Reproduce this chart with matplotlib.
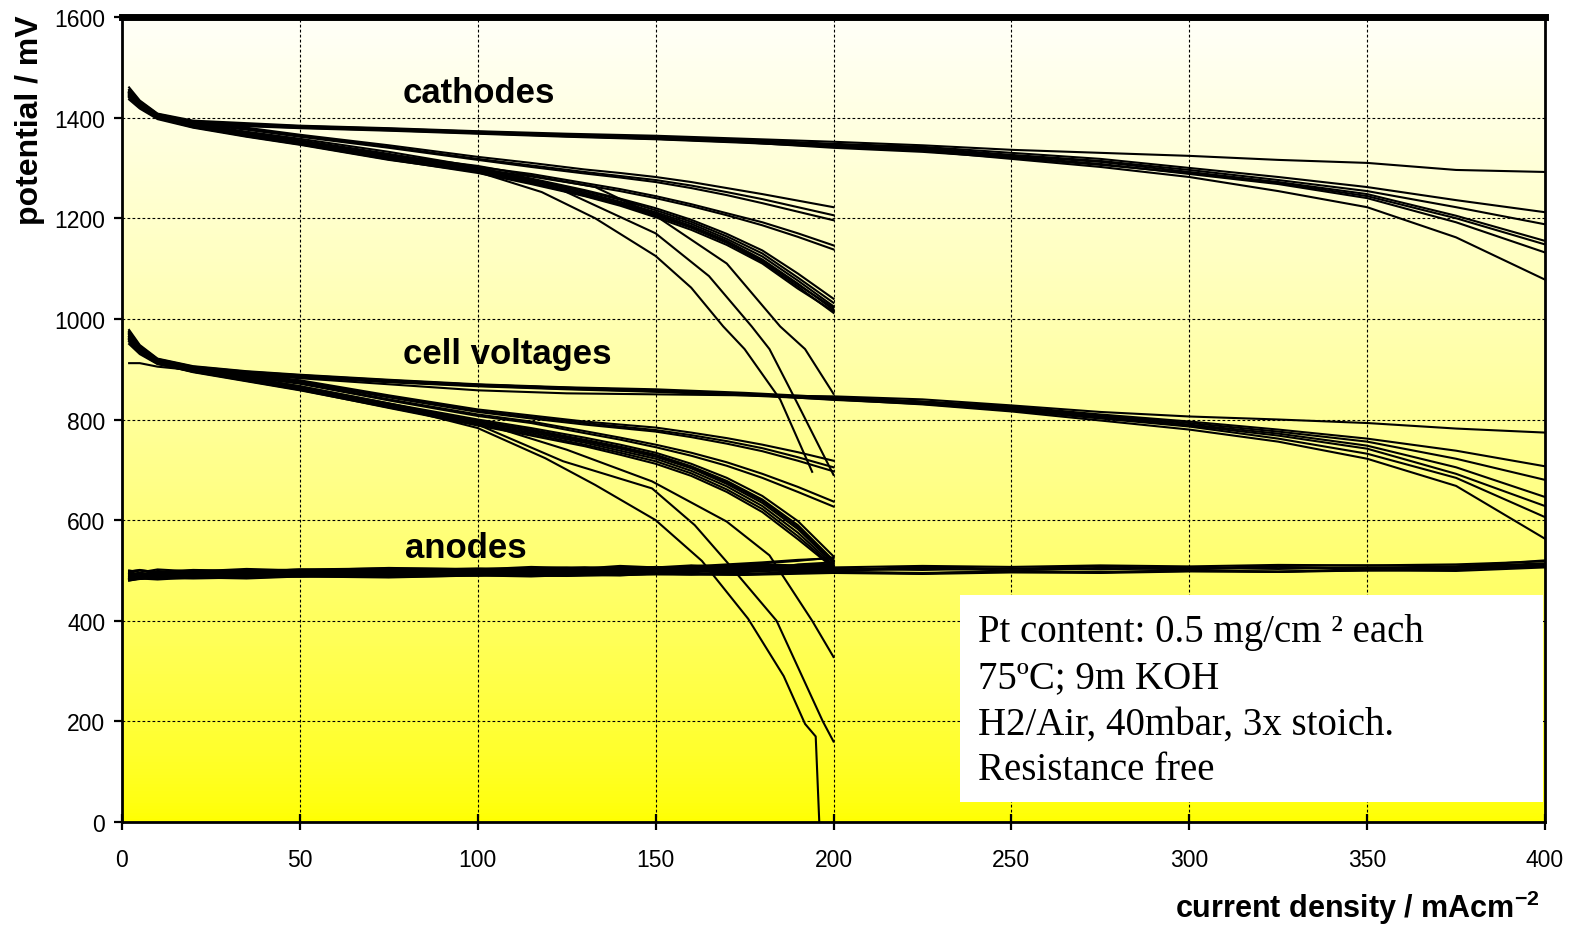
import numpy as np
import matplotlib.pyplot as plt
from matplotlib.patches import Rectangle

plt.rcParams['font.family'] = ['Liberation Sans', 'DejaVu Sans']
plt.rcParams['mathtext.fontset'] = 'custom'
plt.rcParams['mathtext.rm'] = 'Liberation Sans'
plt.rcParams['mathtext.bf'] = 'Liberation Sans:bold'

# x grids of the measurements (mA/cm2)
x_long = [2, 5, 10, 20, 35, 50, 75, 100, 125, 150, 175, 200, 225, 250, 275, 300, 325, 350, 375, 400]
x_short = [2, 5, 10, 20, 35, 50, 75, 100, 115, 130, 140, 150, 160, 170, 180, 190, 200]

# cathodes measured up to 400 mA/cm2
cath_long = [
    [1460, 1434, 1408, 1394, 1389, 1384, 1379, 1373, 1368, 1364, 1358, 1352, 1345, 1336, 1330, 1324, 1316, 1310, 1296, 1292],
    [1455, 1432, 1407, 1392, 1387, 1383, 1378, 1372, 1366, 1362, 1356, 1348, 1342, 1330, 1318, 1300, 1282, 1262, 1236, 1212],
    [1452, 1430, 1406, 1391, 1386, 1382, 1377, 1371, 1365, 1360, 1354, 1345, 1340, 1326, 1314, 1296, 1276, 1254, 1222, 1188],
    [1448, 1428, 1405, 1390, 1385, 1381, 1376, 1370, 1364, 1359, 1353, 1346, 1338, 1324, 1312, 1292, 1272, 1248, 1205, 1155],
    [1445, 1426, 1404, 1389, 1384, 1380, 1375, 1369, 1363, 1358, 1352, 1344, 1336, 1322, 1308, 1288, 1268, 1240, 1192, 1132],
    [1442, 1424, 1403, 1388, 1383, 1379, 1374, 1368, 1362, 1357, 1350, 1342, 1334, 1318, 1302, 1282, 1254, 1222, 1162, 1078],
    [1450, 1429, 1406, 1390, 1386, 1381, 1376, 1370, 1364, 1358, 1351, 1340, 1332, 1320, 1306, 1290, 1270, 1244, 1200, 1148],
]

# cathodes measured up to 200 mA/cm2
cath_short = [
    [1455, 1430, 1406, 1392, 1380, 1366, 1345, 1322, 1310, 1297, 1290, 1282, 1272, 1260, 1248, 1235, 1222],
    [1450, 1428, 1404, 1390, 1378, 1364, 1342, 1318, 1305, 1292, 1284, 1276, 1265, 1252, 1238, 1222, 1206],
    [1445, 1425, 1402, 1388, 1376, 1362, 1340, 1316, 1302, 1289, 1281, 1272, 1260, 1246, 1230, 1213, 1196],
    [1448, 1426, 1404, 1388, 1372, 1358, 1332, 1302, 1288, 1270, 1258, 1244, 1228, 1210, 1192, 1170, 1146],
    [1442, 1422, 1402, 1386, 1370, 1355, 1328, 1298, 1283, 1266, 1254, 1240, 1224, 1206, 1186, 1163, 1138],
    [1452, 1430, 1405, 1387, 1370, 1354, 1324, 1300, 1279, 1256, 1239, 1220, 1197, 1169, 1136, 1090, 1040],
    [1447, 1427, 1403, 1385, 1368, 1352, 1322, 1298, 1277, 1254, 1237, 1216, 1193, 1164, 1130, 1082, 1032],
    [1443, 1424, 1401, 1383, 1366, 1350, 1320, 1296, 1275, 1251, 1233, 1212, 1189, 1159, 1124, 1076, 1025],
    [1440, 1420, 1399, 1381, 1364, 1348, 1318, 1294, 1272, 1248, 1230, 1209, 1185, 1155, 1118, 1070, 1018],
    [1436, 1418, 1397, 1380, 1362, 1346, 1316, 1292, 1270, 1245, 1227, 1205, 1181, 1151, 1113, 1064, 1012],
    [1450, 1426, 1404, 1384, 1365, 1349, 1319, 1293, 1271, 1247, 1229, 1208, 1183, 1153, 1116, 1068, 1022],
    [1444, 1422, 1400, 1382, 1363, 1347, 1317, 1290, 1268, 1244, 1225, 1202, 1177, 1147, 1110, 1060, 1015],
]

# cathodes that break down early
cath_fail_x = [
    [2, 5, 10, 20, 35, 50, 75, 100, 118, 133, 150, 160, 169, 175, 185, 194],
    [2, 5, 10, 20, 35, 50, 75, 100, 124, 150, 165, 177, 182, 190, 200],
    [2, 5, 10, 20, 35, 50, 75, 100, 133, 150, 170, 185, 192, 200],
]
cath_fail_y = [
    [1440, 1420, 1400, 1382, 1364, 1348, 1320, 1292, 1252, 1200, 1125, 1062, 985, 940, 840, 696],
    [1446, 1424, 1402, 1384, 1366, 1350, 1322, 1302, 1255, 1170, 1085, 985, 940, 830, 690],
    [1450, 1428, 1404, 1386, 1368, 1352, 1326, 1304, 1262, 1205, 1110, 985, 940, 851],
]

# cell voltages up to 400 mA/cm2
cell_long = [
    [912, 912, 905, 898, 890, 882, 870, 858, 852, 850, 848, 846, 840, 828, 815, 806, 800, 793, 782, 774],
    [978, 948, 921, 906, 896, 889, 879, 870, 864, 860, 853, 844, 836, 826, 810, 796, 780, 762, 738, 707],
    [972, 945, 919, 904, 894, 887, 877, 869, 863, 858, 851, 843, 835, 824, 808, 793, 776, 756, 722, 680],
    [968, 942, 918, 903, 893, 886, 876, 868, 862, 857, 850, 842, 834, 822, 806, 790, 772, 748, 705, 646],
    [964, 940, 917, 902, 892, 885, 875, 867, 861, 856, 849, 841, 833, 820, 804, 788, 768, 742, 692, 628],
    [960, 938, 916, 901, 891, 884, 874, 866, 860, 855, 848, 840, 830, 816, 798, 780, 756, 722, 668, 563],
    [975, 946, 920, 905, 895, 888, 878, 869, 863, 858, 850, 839, 831, 818, 802, 786, 762, 732, 684, 606],
]

# cell voltages up to 200 mA/cm2
cell_short = [
    [970, 940, 918, 903, 890, 878, 848, 820, 808, 796, 790, 784, 774, 763, 750, 735, 718],
    [965, 938, 916, 901, 888, 876, 846, 817, 805, 793, 786, 779, 769, 757, 743, 725, 705],
    [960, 935, 914, 899, 886, 874, 844, 815, 802, 790, 783, 776, 765, 752, 737, 718, 697],
    [968, 940, 917, 902, 887, 873, 840, 810, 796, 777, 764, 750, 734, 715, 692, 666, 637],
    [962, 936, 915, 900, 885, 871, 838, 807, 793, 773, 760, 745, 728, 708, 684, 656, 627],
    [975, 945, 919, 902, 884, 866, 832, 800, 783, 764, 750, 734, 712, 684, 648, 598, 528],
    [970, 942, 917, 900, 882, 864, 830, 797, 780, 760, 746, 730, 707, 678, 641, 590, 520],
    [965, 938, 915, 898, 880, 862, 828, 795, 777, 757, 742, 726, 703, 672, 634, 582, 514],
    [960, 935, 913, 896, 878, 860, 826, 792, 774, 754, 738, 722, 698, 667, 628, 575, 510],
    [955, 932, 911, 894, 876, 858, 824, 790, 771, 750, 734, 717, 693, 661, 622, 568, 507],
    [972, 944, 918, 900, 880, 863, 829, 796, 778, 758, 744, 728, 705, 675, 638, 586, 517],
    [958, 933, 912, 895, 877, 859, 823, 788, 768, 747, 730, 712, 688, 656, 616, 562, 505],
]

cell_fail_x = [
    [2, 5, 10, 20, 35, 50, 75, 100, 119, 133, 150, 163, 176, 186, 192, 195, 196],
    [2, 5, 10, 20, 35, 50, 75, 100, 124, 149, 161, 170, 184, 197, 200],
    [2, 5, 10, 20, 35, 50, 75, 100, 125, 149, 170, 182, 194, 200],
]
cell_fail_y = [
    [950, 930, 910, 895, 880, 862, 828, 783, 723, 670, 600, 519, 404, 290, 195, 170, 0],
    [955, 933, 912, 897, 882, 865, 830, 790, 717, 663, 590, 517, 400, 200, 160],
    [958, 935, 913, 898, 883, 866, 832, 795, 740, 677, 597, 530, 400, 328],
]

# anodes
anode_long = [
    [490, 492, 494, 493, 496, 495, 498, 500, 499, 502, 501, 503, 501, 504, 502, 505, 503, 506, 505, 512],
    [482, 486, 484, 488, 487, 490, 489, 492, 491, 494, 493, 497, 495, 498, 497, 499, 498, 500, 502, 508],
    [498, 500, 497, 501, 499, 502, 504, 503, 506, 505, 507, 506, 509, 507, 510, 508, 511, 510, 512, 518],
    [486, 484, 488, 490, 486, 491, 489, 493, 490, 495, 492, 497, 494, 499, 496, 501, 497, 503, 505, 510],
    [495, 491, 496, 493, 498, 494, 500, 497, 503, 499, 505, 501, 507, 503, 508, 504, 509, 510, 508, 514],
    [480, 483, 485, 484, 486, 488, 487, 490, 489, 492, 491, 495, 493, 496, 495, 498, 497, 500, 499, 506],
    [492, 488, 493, 494, 495, 491, 497, 498, 500, 496, 502, 499, 504, 500, 505, 502, 507, 503, 508, 520],
]
anode_short = [
    [484, 492, 486, 494, 490, 495, 497, 502, 498, 504, 500, 506, 507, 510, 514, 519, 526],
    [492, 486, 495, 489, 496, 492, 500, 495, 504, 499, 506, 501, 508, 512, 516, 521, 524],
    [481, 488, 484, 490, 486, 492, 489, 494, 491, 497, 493, 499, 496, 501, 498, 503, 504],
    [498, 501, 496, 500, 497, 502, 499, 504, 501, 506, 503, 507, 504, 509, 506, 510, 508],
    [488, 483, 491, 486, 494, 488, 496, 490, 498, 493, 500, 495, 502, 497, 504, 499, 505],
    [500, 496, 502, 498, 503, 500, 505, 502, 507, 504, 509, 506, 510, 508, 512, 510, 513],
    [483, 493, 486, 496, 489, 498, 491, 500, 494, 502, 496, 504, 498, 506, 500, 508, 506],
    [494, 490, 497, 492, 499, 494, 501, 496, 503, 498, 505, 500, 507, 502, 509, 504, 511],
    [480, 484, 482, 486, 484, 488, 486, 490, 488, 492, 490, 494, 492, 496, 494, 498, 500],
    [497, 492, 499, 494, 501, 496, 503, 498, 505, 500, 507, 502, 509, 504, 511, 506, 509],
    [487, 495, 489, 497, 491, 499, 493, 501, 495, 503, 497, 505, 499, 507, 501, 512, 516],
    [495, 488, 494, 490, 496, 492, 498, 494, 500, 496, 502, 498, 504, 500, 506, 502, 507],
    [485, 487, 489, 486, 491, 488, 493, 490, 495, 492, 497, 494, 499, 496, 500, 498, 502],
]

info_lines = ['Pt content: 0.5 mg/cm \u00b2 each', '75\u00baC; 9m KOH',
              'H2/Air, 40mbar, 3x stoich.', 'Resistance free']

fig = plt.figure(figsize=(15.72, 9.28), dpi=100)
ax = fig.add_axes([122 / 1572, 1 - 823 / 928, (1545 - 122) / 1572, (823 - 18) / 928])

# white-to-yellow background
grad = np.linspace(0, 1, 256) ** 0.7
bg = np.zeros((256, 1, 3))
bg[:, 0, 0] = 1.0
bg[:, 0, 1] = 1.0
bg[:, 0, 2] = grad * 0.975
ax.imshow(bg, extent=(0, 400, 0, 1600), origin='lower', aspect='auto', zorder=0)

lw = 1.5
for y in cath_long + cell_long + anode_long:
    ax.plot(x_long, y, color='black', lw=lw, zorder=2)
for y in cath_short + cell_short + anode_short:
    ax.plot(x_short, y, color='black', lw=lw, zorder=2)
for xs, ys in zip(cath_fail_x + cell_fail_x, cath_fail_y + cell_fail_y):
    ax.plot(xs, ys, color='black', lw=lw, zorder=2)

ax.set_xlim(0, 400)
ax.set_ylim(0, 1600)
ax.set_xticks(np.arange(0, 401, 50))
ax.set_yticks(np.arange(0, 1601, 200))
ax.set_axisbelow(True)
ax.grid(True, color='black', lw=0.8, linestyle=(0, (2.5, 2)))

ax.tick_params(axis='y', direction='out', length=6, width=1.6, pad=6, labelsize=16.5)
ax.tick_params(axis='x', direction='inout', length=12, width=1.6, pad=13, labelsize=16.5)

for side in ['left', 'bottom', 'right']:
    ax.spines[side].set_linewidth(2.0)
ax.spines['top'].set_linewidth(5)

ax.text(79, 1450, 'cathodes', fontsize=25, fontweight='bold', va='center', ha='left', zorder=4)
ax.text(79, 932, 'cell voltages', fontsize=25, fontweight='bold', va='center', ha='left', zorder=4)
ax.text(79.5, 545, 'anodes', fontsize=25, fontweight='bold', va='center', ha='left', zorder=4)

ax.add_patch(Rectangle((235.6, 40), 400 - 235.6 - 0.6, 411, facecolor='white', edgecolor='none', zorder=3))
for i, line in enumerate(info_lines):
    ax.text(240.6, 378 - i * 91.5, line, fontsize=28, family='Liberation Serif',
            va='center', ha='left', zorder=4)

fig.text(30 / 1572, 1 - 120 / 928, 'potential / mV', rotation=90, fontsize=23,
         fontweight='bold', ha='center', va='center')
fig.text(1540 / 1572, 1 - 908 / 928, r'current density / mAcm$^{\mathbf{-2}}$', fontsize=22,
         fontweight='bold', ha='right', va='center')

fig.savefig('out.png', dpi=100)
